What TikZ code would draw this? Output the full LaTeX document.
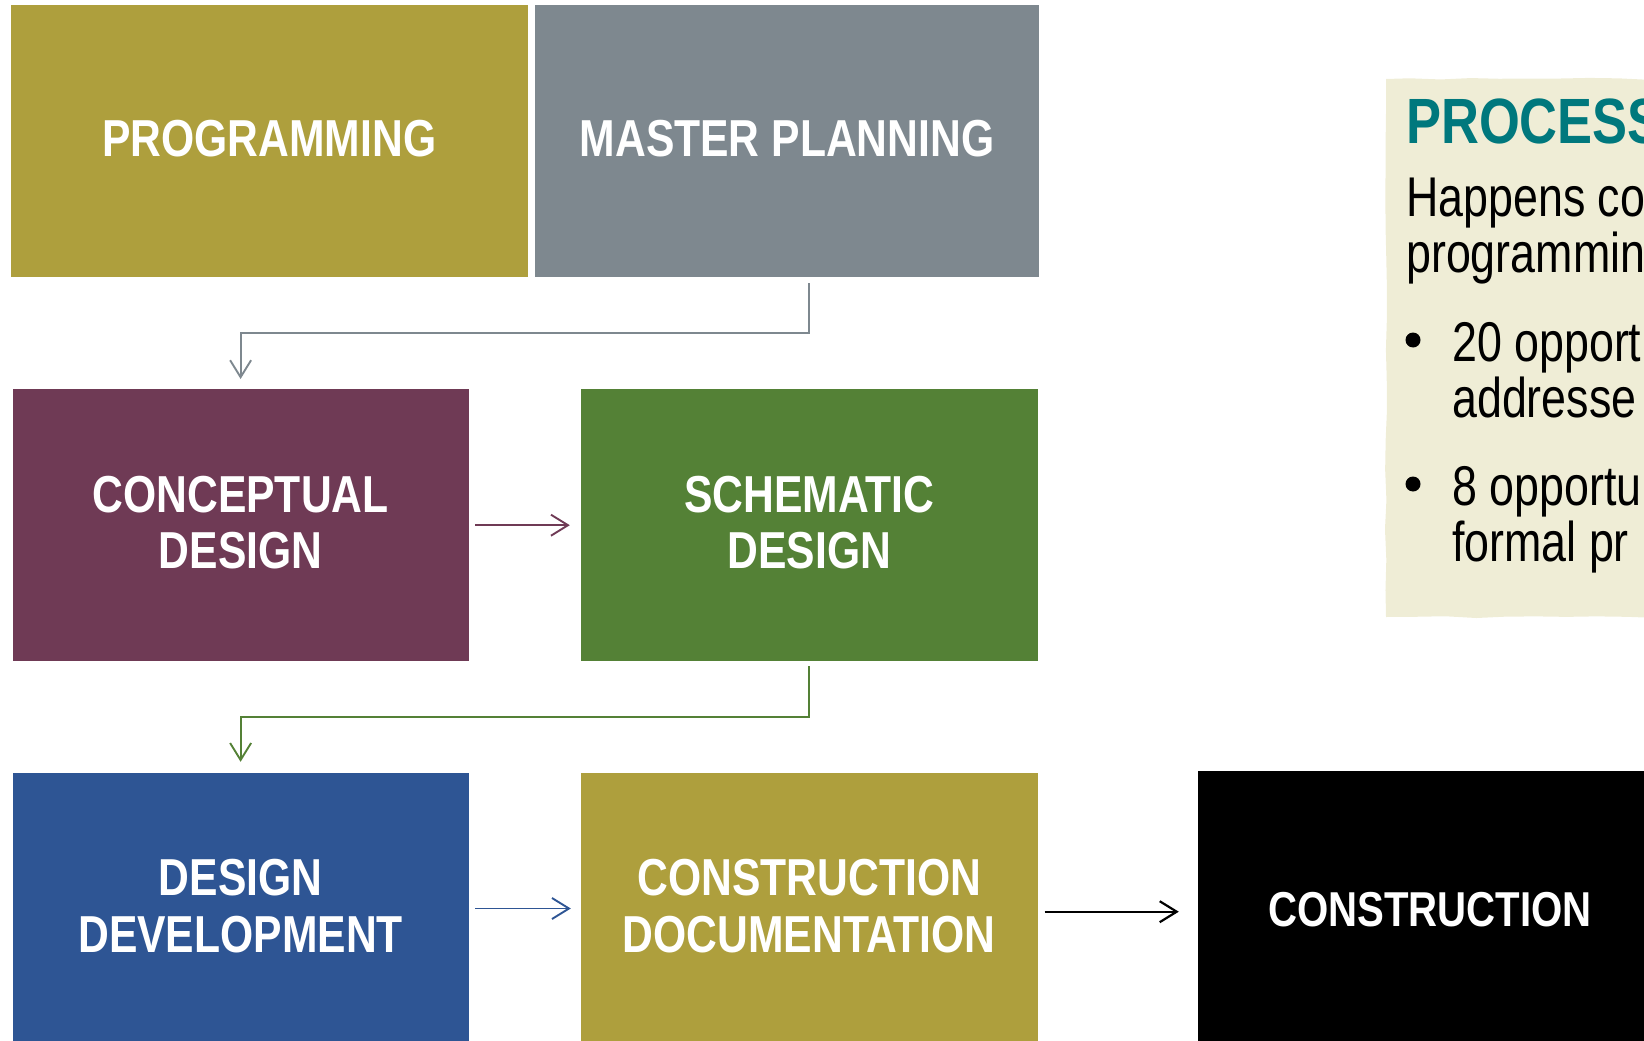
\documentclass[tikz,border=0pt]{standalone}
\usepackage{fontspec}
\setmainfont{Liberation Sans}
\newfontfamily\boxfont[FakeStretch=0.82]{Liberation Sans}
\newfontfamily\notefont[FakeStretch=0.8]{Liberation Sans}
\usetikzlibrary{arrows.meta,positioning,decorations.pathmorphing}

\definecolor{progolive}{HTML}{AE9F3D}
\definecolor{plangray}{HTML}{7E888F}
\definecolor{conceptplum}{HTML}{6F3A55}
\definecolor{schemgreen}{HTML}{548136}
\definecolor{devblue}{HTML}{2E5594}
\definecolor{noteteal}{HTML}{00787D}
\definecolor{notebeige}{HTML}{EFEDD6}

\tikzset{
  stage/.style={rectangle, fill=#1, text=white, inner sep=0pt, align=center, text depth=5.5pt,
    font=\boxfont\bfseries\fontsize{52}{56.5}\selectfont},
  link/.style={draw=#1, line width=1.9pt, -{Straight Barb[length=17pt,width=21pt]}},
  note/.style={anchor=base west, inner sep=0pt, align=left,
    font=\notefont\fontsize{56}{56}\selectfont},
  notedot/.style={circle, fill=black, inner sep=0pt, minimum size=15pt}
}

\begin{document}
\begin{tikzpicture}[x=1pt,y=-1pt]
  \useasboundingbox (0,0) rectangle (1644,1041);
  \clip (0,0) rectangle (1644,1041);

  \node[stage=progolive, minimum width=517.5pt, minimum height=272pt] (prog) at (269.25,141) {PROGRAMMING};
  \node[stage=plangray, minimum width=504pt, minimum height=272pt] (plan) at (787,141) {MASTER PLANNING};
  \node[stage=conceptplum, minimum width=456pt, minimum height=272pt] (concept) at (240.6,525.2) {CONCEPTUAL\\DESIGN};
  \node[stage=schemgreen, minimum width=456.5pt, minimum height=272pt] (schem) at (809.25,525.2) {SCHEMATIC\\DESIGN};
  \node[stage=devblue, minimum width=456pt, minimum height=272pt] (devel) at (240.6,908.5) {DESIGN\\DEVELOPMENT};
  \node[stage=progolive, minimum width=456.5pt, minimum height=272pt] (docs) at (809.25,908.5) {CONSTRUCTION\\DOCUMENTATION};
  \node[stage=black, minimum width=464pt, minimum height=277pt, text depth=0pt, font=\boxfont\bfseries\fontsize{49}{53}\selectfont] (build) at (1430,909.5) {CONSTRUCTION};

  \draw[link=plangray] (plan.south -| schem.north) ++(0,6) -- ++(0,50) -| ([yshift=10pt]concept.north);
  \draw[link=conceptplum] ([xshift=6.5pt]concept.east) -- ([xshift=-11pt]schem.west);
  \draw[link=schemgreen] (schem.south) ++(0,5) -- ++(0,50.7) -| ([yshift=10.5pt]devel.north);
  \draw[link=devblue] ([xshift=6.5pt]devel.east) -- ([xshift=-10pt]docs.west);
  \draw[link=black, line width=2.2pt] (docs.east) ++(7,3.2) -- ([xshift=-19pt,yshift=-3.2pt]docs.east -| build.west);

  \pgfmathsetseed{11}
  \fill[notebeige, decorate, decoration={random steps, segment length=30pt, amplitude=1.2pt}] (1386,79) rectangle (1680,617);

  \node[anchor=base west, inner sep=0pt, text=noteteal, font=\boxfont\bfseries\fontsize{64}{64}\selectfont] (notehead) at (1406,143.5) {PROCESS};
  \node[note] (noteintro) at (1406,272) {Happens co\\programmin};
  \node[notedot] (dotone) at (1413,340) {};
  \node[note] (itemone) at (1452,417.8) {20 opport\\addresse};
  \node[notedot] (dottwo) at (1413,484) {};
  \node[note] (itemtwo) at (1452,561.5) {8 opportu\\formal pr};
\end{tikzpicture}
\end{document}
